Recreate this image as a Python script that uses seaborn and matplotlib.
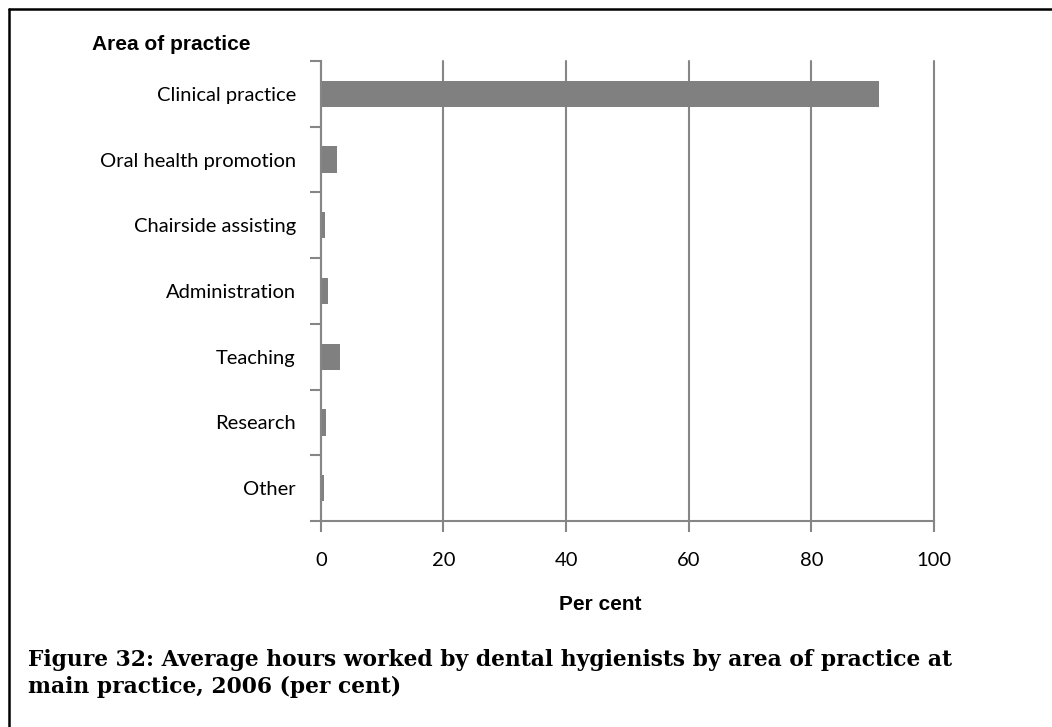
import matplotlib
matplotlib.use("Agg")
import matplotlib.pyplot as plt
import pandas as pd
import seaborn as sns
from matplotlib.lines import Line2D

categories = ["Clinical practice", "Oral health promotion", "Chairside assisting",
              "Administration", "Teaching", "Research", "Other"]
values = [91.0, 2.7, 0.7, 1.1, 3.2, 0.9, 0.5]
xticks = [0, 20, 40, 60, 80, 100]

df = pd.DataFrame({"Area": categories, "Per cent": values})

sns.set_style("white")
plt.rcParams["font.family"] = ["Lato", "DejaVu Sans"]
plt.rcParams["text.color"] = "black"
plt.rcParams["xtick.color"] = "black"
plt.rcParams["ytick.color"] = "black"

fig = plt.figure(figsize=(10.52, 7.27), dpi=100)
ax = fig.add_axes([0.3049, 0.2834, 0.5829, 0.6327])

sns.barplot(data=df, x="Per cent", y="Area", orient="h", color="#808080",
            width=0.4, saturation=1, ax=ax, edgecolor="none")

ax.set_xlim(0, 100)
ax.set_ylim(len(categories) - 0.5, -0.5)
ax.set_xticks(xticks)
ax.set_xticklabels([str(t) for t in xticks], fontsize=14.5)
ax.tick_params(axis="x", bottom=True, length=8, width=1.5, color="#868686",
               labelcolor="black", pad=14)

# category ticks sit between the bars, labels in the middle
ax.set_yticks([i - 0.5 for i in range(len(categories) + 1)])
ax.set_yticklabels([])
ax.set_yticks(range(len(categories)), minor=True)
ax.set_yticklabels(categories, minor=True, fontsize=14.5)
ax.tick_params(axis="y", which="major", left=True, length=8, width=1.5, color="#868686")
ax.tick_params(axis="y", which="minor", left=True, length=0, pad=18, labelcolor="black")

ax.grid(axis="x", color="#868686", linewidth=1.5)
for gl in ax.get_xgridlines():
    gl.set_clip_on(False)
ax.set_axisbelow(True)
for s in ["top", "right"]:
    ax.spines[s].set_visible(False)
for s in ["left", "bottom"]:
    ax.spines[s].set_color("#868686")
    ax.spines[s].set_linewidth(1.5)

ax.set_xlabel("")
ax.set_ylabel("")

fig.text(600 / 1052, 1 - 604 / 727, "Per cent", ha="center", va="center",
         fontsize=15, fontweight="bold", family="Liberation Sans")
fig.text(92 / 1052, 1 - 44 / 727, "Area of practice", ha="left", va="center",
         fontsize=15, fontweight="bold", family="Liberation Sans")

fig.text(28 / 1052, 1 - 660 / 727,
         "Figure 32: Average hours worked by dental hygienists by area of practice at",
         ha="left", va="center", fontsize=15.7, fontweight="bold", family="DejaVu Serif")
fig.text(28 / 1052, 1 - 687 / 727, "main practice, 2006 (per cent)",
         ha="left", va="center", fontsize=15.7, fontweight="bold", family="DejaVu Serif")

# page frame: left and top edges
fig.add_artist(Line2D([9 / 1052, 9 / 1052], [0, 1 - 9 / 727], color="black",
                      linewidth=1.8, transform=fig.transFigure))
fig.add_artist(Line2D([9 / 1052, 1], [1 - 9 / 727, 1 - 9 / 727], color="black",
                      linewidth=1.8, transform=fig.transFigure))

fig.savefig("out.png", dpi=100)
